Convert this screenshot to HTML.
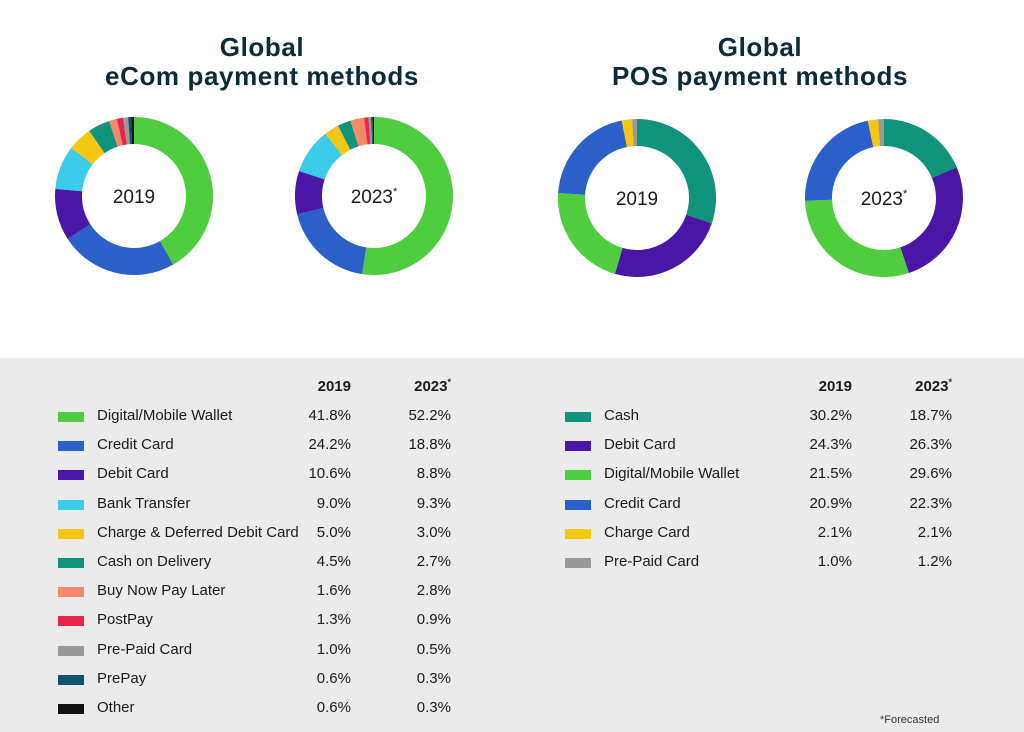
<!DOCTYPE html>
<html><head><meta charset="utf-8"><style>
*{margin:0;padding:0}
body{width:1024px;height:732px;background:#fff;position:relative;overflow:hidden;font-family:"Liberation Sans",sans-serif;color:#1a1a1a}
.t{position:absolute;text-align:center;font-weight:bold;font-size:26px;color:#0b2a3a;line-height:29px;letter-spacing:0.6px}
#gray{position:absolute;left:0;top:358px;width:1024px;height:374px;background:#ebebeb}
.r{position:absolute;font-size:15px;line-height:18px;white-space:nowrap}
.sw{position:absolute;width:26px;height:10px}
.n{position:absolute;font-size:15px;line-height:18px;text-align:right;width:80px}
.h{font-weight:bold}
.st{font-size:9px;position:relative;top:-6px}
</style></head><body>
<div class="t" style="left:62px;top:33px;width:400px">Global<br>eCom payment methods</div>
<div class="t" style="left:560px;top:33px;width:400px">Global<br>POS payment methods</div>
<svg id="s" width="1024" height="358" style="position:absolute;left:0;top:0"></svg>
<div id="gray"></div>
<div id="tb"></div>
<div style="position:absolute;left:880px;top:714px;font-size:11px;color:#333">*Forecasted</div>
<script>
const E=[["Digital/Mobile Wallet","#4fcc3f",41.8,52.2],["Credit Card","#2d5fc8",24.2,18.8],["Debit Card","#4a16a6",10.6,8.8],["Bank Transfer","#3ccbe8",9.0,9.3],["Charge & Deferred Debit Card","#f5c710",5.0,3.0],["Cash on Delivery","#10937a",4.5,2.7],["Buy Now Pay Later","#f08a6a",1.6,2.8],["PostPay","#e8254a",1.3,0.9],["Pre-Paid Card","#999999",1.0,0.5],["PrePay","#0f5370",0.6,0.3],["Other","#111111",0.6,0.3]];
const P=[["Cash","#10937a",30.2,18.7],["Debit Card","#4a16a6",24.3,26.3],["Digital/Mobile Wallet","#4fcc3f",21.5,29.6],["Credit Card","#2d5fc8",20.9,22.3],["Charge Card","#f5c710",2.1,2.1],["Pre-Paid Card","#999999",1.0,1.2]];
let svg="";
function donut(cx,cy,data,k,label){
 const R=79,r=52;let tot=data.reduce((a,d)=>a+d[k],0),a=0;
 data.forEach(d=>{const a0=a/tot*2*Math.PI;a+=d[k];const a1=a/tot*2*Math.PI;
  const p=(rr,t)=>[cx+rr*Math.sin(t),cy-rr*Math.cos(t)];const lg=a1-a0>Math.PI?1:0;
  const [x0,y0]=p(R,a0),[x1,y1]=p(R,a1),[x2,y2]=p(r,a1),[x3,y3]=p(r,a0);
  svg+=`<path d="M${x0},${y0}A${R},${R} 0 ${lg} 1 ${x1},${y1}L${x2},${y2}A${r},${r} 0 ${lg} 0 ${x3},${y3}Z" fill="${d[1]}"/>`;});
 svg+=`<text x="${cx}" y="${cy+7}" text-anchor="middle" font-size="19" font-family="Liberation Sans" fill="#1a1a1a">${label}</text>`;
}
donut(134,196,E,2,"2019");donut(374,196,E,3,"2023<tspan font-size='11' dy='-8'>*</tspan>");
donut(637,198,P,2,"2019");donut(884,198,P,3,"2023<tspan font-size='11' dy='-8'>*</tspan>");
document.getElementById("s").innerHTML=svg;
let h="";
function table(x,data,c1,c2){
 h+=`<div class="n h" style="left:${c1-80}px;top:378px">2019</div><div class="n h" style="left:${c2-80}px;top:378px">2023<span class="st">*</span></div>`;
 data.forEach((d,i)=>{const y=407+i*29.2;
  h+=`<div class="sw" style="left:${x}px;top:${y+5}px;background:${d[1]}"></div><div class="r" style="left:${x+39}px;top:${y}px">${d[0].replace("&","&amp;")}</div><div class="n" style="left:${c1-80}px;top:${y}px">${d[2].toFixed(1)}%</div><div class="n" style="left:${c2-80}px;top:${y}px">${d[3].toFixed(1)}%</div>`;});
}
table(58,E,351,451);table(565,P,852,952);
document.getElementById("tb").innerHTML=h;
</script>
</body></html>
